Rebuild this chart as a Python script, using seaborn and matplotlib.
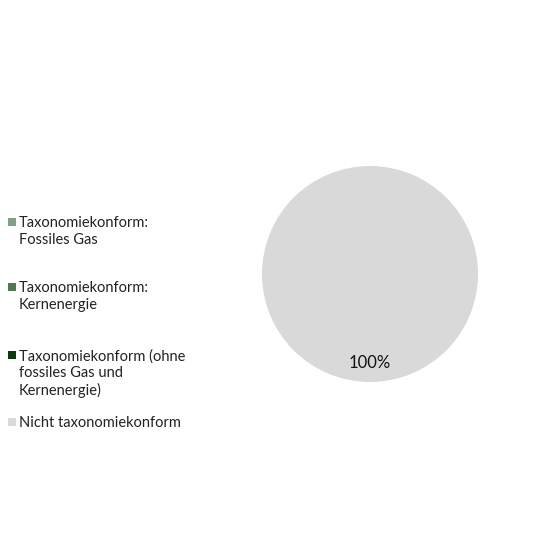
import matplotlib
matplotlib.use("Agg")
import matplotlib.pyplot as plt
from matplotlib.patches import Rectangle
import seaborn as sns

categories = [
    "Taxonomiekonform:\nFossiles Gas",
    "Taxonomiekonform:\nKernenergie",
    "Taxonomiekonform (ohne\nfossiles Gas und\nKernenergie)",
    "Nicht taxonomiekonform",
]
shares = [0, 0, 0, 100]
colors = ["#82a082", "#4f7a55", "#0c3a0c", "#d9d9d9"]

sns.set_theme(style="white")
plt.rcParams["font.family"] = ["Lato", "DejaVu Sans"]

W, H = 552, 534
fig = plt.figure(figsize=(W / 100, H / 100), dpi=100)
fig.patch.set_facecolor("white")

# pie: centre (370, 274) px, radius 108 px; pie pads limits to +-1.25
cx, cy, r = 370, 274, 108
half = r * 1.25
ax = fig.add_axes([(cx - half) / W, (H - cy - half) / H, 2 * half / W, 2 * half / H])


def fmt(p):
    return f"{p:.0f}%" if p > 0 else ""


ax.pie(shares, colors=colors, startangle=90, counterclock=False,
       autopct=fmt, pctdistance=0.82,
       wedgeprops=dict(linewidth=0),
       textprops=dict(fontsize=12, color="#111111"))
ax.set_xlim(-1.25, 1.25)
ax.set_ylim(-1.25, 1.25)
ax.set_aspect("equal")

# legend, drawn by hand (entries top-aligned in fixed slots)
tops = [222, 287, 355, 422]
for lab, col, y in zip(categories, colors, tops):
    fig.patches.append(Rectangle((8 / W, (H - y - 4) / H), 8 / W, 8 / H,
                                 transform=fig.transFigure, facecolor=col,
                                 edgecolor="none"))
    fig.text(19 / W, (H - y + 6) / H, lab, ha="left", va="top",
             fontsize=10.5, color="#222222", linespacing=1.25)

fig.savefig("out.png", dpi=100, facecolor="white")
